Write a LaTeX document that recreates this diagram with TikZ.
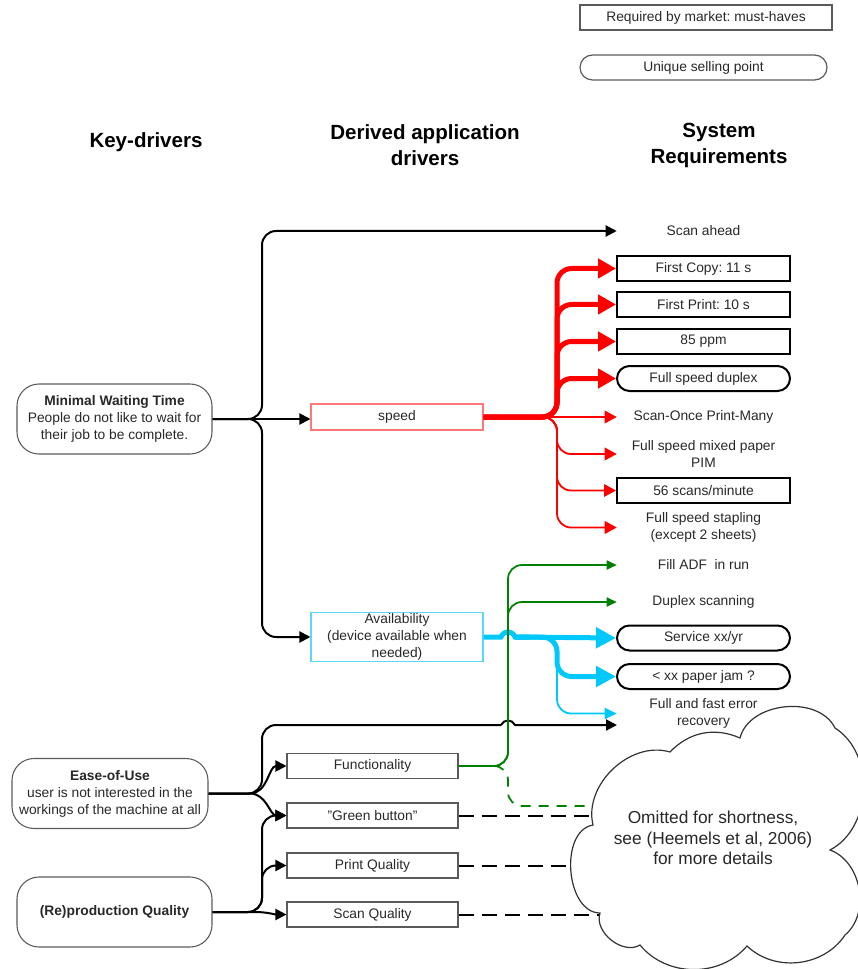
\documentclass[tikz,border=0pt]{standalone}
\usepackage{fontspec}
\setmainfont{Liberation Sans}
\usetikzlibrary{arrows.meta}
\pgfdeclarelayer{bg}
\pgfdeclarelayer{mid}
\pgfsetlayers{bg,mid,main}
\definecolor{cred}{RGB}{255,0,0}
\definecolor{lred}{RGB}{255,120,120}
\definecolor{ccyan}{RGB}{0,200,250}
\definecolor{lcyan}{RGB}{90,215,250}
\definecolor{cgreen}{RGB}{0,128,0}
\definecolor{tgray}{RGB}{40,40,40}
\definecolor{bgray}{RGB}{90,90,90}
\frenchspacing
\begin{document}
\begin{tikzpicture}[x=0.75pt,y=-0.75pt,
  txt/.style={font=\fontsize{10.35}{12.75}\selectfont, align=center, text=tgray, inner sep=0pt},
  hdr/.style={font=\fontsize{15.4}{19.5}\selectfont\bfseries, align=center, text=black},
  kbox/.style={txt, draw=bgray, line width=0.8pt, rounded corners=16.5pt, minimum width=146.25pt, minimum height=52.5pt},
  lbox/.style={txt, draw=bgray, line width=0.8pt, minimum width=128.25pt, minimum height=18.75pt},
  rbox/.style={txt, draw=black, line width=1.5pt, minimum width=129.75pt, minimum height=18.75pt},
  rrnd/.style={rbox, rounded corners=9.375pt},
  rtxt/.style={txt, minimum width=129.75pt, minimum height=18.75pt},
  blk/.style={line width=1.5pt, draw=black, -{Triangle[length=8.25pt,width=8.25pt]}},
  blkline/.style={line width=1.5pt, draw=black},
  rthick/.style={line width=3.75pt, draw=cred, rounded corners=11pt, -{Triangle[length=13.5pt,width=14.25pt]}},
  rthin/.style={line width=1.35pt, draw=cred, rounded corners=10.5pt, -{Triangle[length=9pt,width=9.4pt]}},
  cthick/.style={line width=3.75pt, draw=ccyan, rounded corners=11pt, -{Triangle[length=15pt,width=15pt]}},
  cthickline/.style={line width=3.75pt, draw=ccyan},
  cthin/.style={line width=1.35pt, draw=ccyan, rounded corners=10.5pt, -{Triangle[length=9pt,width=8.25pt]}},
  gline/.style={line width=1.3pt, draw=cgreen, rounded corners=10.5pt, -{Triangle[length=7.5pt,width=6.75pt]}},
  gdash/.style={line width=1.3pt, draw=cgreen, rounded corners=10.5pt, dash pattern=on 7.5pt off 6pt},
  bdash/.style={line width=1.5pt, draw=black, dash pattern=on 11.25pt off 6pt}
]
\useasboundingbox (0,0) rectangle (857,969);
\clip (0,0) rectangle (857,969);

% legend
\node[txt, draw=bgray, line width=0.9pt, minimum width=189pt, minimum height=18.75pt] (leg1) at (706,17.5) {Required by market: must-haves};
\node[txt, draw=bgray, line width=0.9pt, rounded corners=9.375pt, minimum width=185.25pt, minimum height=18.75pt] (leg2) at (703.5,67.5) {Unique selling point};

% headers
\node[hdr] (h1) at (146,142) {Key-drivers};
\node[hdr] (h2) at (425,145) {Derived application\\drivers};
\node[hdr] (h3) at (719,145) {System\\Requirements};

% key drivers
\node[kbox] (mwt) at (114.5,419) {\textbf{Minimal Waiting Time}\\People do not like to wait for\\their job to be complete.};
\node[kbox, minimum width=147pt] (eou) at (110,793.5) {\textbf{Ease-of-Use}\\user is not interested in the\\workings of the machine at all};
\node[kbox] (repq) at (114.5,912) {\textbf{(Re)production Quality}};

% derived
\node[lbox, draw=lred, minimum width=129pt, minimum height=19.5pt] (speed) at (397,417) {speed};
\node[lbox, draw=lcyan, minimum width=129pt, minimum height=36.75pt] (avail) at (397,637) {Availability\\(device available when\\needed)};
\node[lbox] (func) at (372.5,766) {Functionality};
\node[lbox] (green) at (372.5,815.5) {"Green button"};
\node[lbox] (printq) at (372.5,865.5) {Print Quality};
\node[lbox] (scanq) at (372.5,914.5) {Scan Quality};

% system requirements
\node[rtxt] (sa) at (703.5,231) {Scan ahead};
\node[rbox] (fc) at (703.5,268.5) {First Copy: 11 s};
\node[rbox] (fp) at (703.5,304.5) {First Print: 10 s};
\node[rbox] (ppm) at (703.5,341.5) {85 ppm};
\node[rrnd] (fsd) at (703.5,378.5) {Full speed duplex};
\node[rtxt] (sopm) at (703.5,417) {Scan-Once Print-Many};
\node[rtxt] (fsmp) at (703.5,454) {Full speed mixed paper\\PIM};
\node[rbox] (s56) at (703.5,490.5) {56 scans/minute};
\node[rtxt] (fss) at (703.5,527.5) {Full speed stapling\\(except 2 sheets)};
\node[rtxt] (fadf) at (703.5,565) {Fill ADF~ in run};
\node[rtxt] (dup) at (703.5,602) {Duplex scanning};
\node[rrnd] (svc) at (703.5,638) {Service xx/yr};
\node[rrnd] (jam) at (703.5,676.5) {< xx paper jam ?};
\node[rtxt] (ferr) at (703.5,713.5) {Full and fast error\\recovery};
\coordinate (fe2) at (617,725);
\coordinate (ej) at (501,725);
\coordinate (ej2) at (515,725);
\coordinate (aj) at (501,637);
\coordinate (aj2) at (515,637);

% cloud
\begin{pgfonlayer}{mid}
\draw[line width=0.9pt, draw=black!80, fill=white]
  (670,752) to[bend left=35] (740,738) to[bend left=70] (835,728)
  to[bend left=60] (830,850) to[bend left=60] (845,935)
  to[bend left=50] (747,946) to[bend left=50] (640,945)
  to[bend left=70] (600,913) to[bend left=85] (593,825)
  to[bend left=60] cycle;
\end{pgfonlayer}
\node[txt, font=\fontsize{13}{15.4}\selectfont] (cloudtxt) at (713,838) {Omitted for shortness,\\see (Heemels et al, 2006)\\for more details};

% minimal waiting time connectors
\draw[blk, rounded corners=10.5pt] (mwt.east) -- (262,419) -- (262,231) -- (sa.west);
\draw[blk] (mwt.east) -- (speed.west |- mwt.east);
\draw[blk, rounded corners=10.5pt] (mwt.east) -- (262,419) -- (262,637) -- (avail.west);

% speed connectors
\draw[rthick] (speed.east) -- (557,417) -- (557,268.5) -- (fc.west);
\draw[rthick] (speed.east) -- (557,417) -- (557,304.5) -- (fp.west);
\draw[rthick] (speed.east) -- (557,417) -- (557,341.5) -- (ppm.west);
\draw[rthick] (speed.east) -- (557,417) -- (557,378.5) -- (fsd.west);
\draw[rthin] (speed.east) -- (sopm.west);
\draw[rthin] (speed.east) -- (557,417) -- (557,454) -- (fsmp.west);
\draw[rthin] (speed.east) -- (557,417) -- (557,490.5) -- (s56.west);
\draw[rthin] (speed.east) -- (557,417) -- (557,527.5) -- (fss.west);

% availability connectors
\draw[cthickline] (avail.east) -- (aj) .. controls (504,630) and (512,630) .. (aj2) -- (530,637);
\draw[cthick] (aj2) -- (svc.west);
\draw[cthick] (aj2) -- (557,637) -- (557,676.5) -- (jam.west);
\draw[cthin] (aj2) -- (557,637) -- (557,713.5) -- (ferr.west);

% ease-of-use connectors
\draw[blkline, rounded corners=10.5pt] (eou.east) -- (262,793.5) -- (262,725) -- (ej);
\draw[blk] (ej) .. controls (504,719) and (512,719) .. (ej2) -- (fe2);
\draw[blk] (eou.east) -- (250,793.5) to[out=0,in=180] (func.west);
\draw[blk] (eou.east) -- (250,793.5) to[out=0,in=180] (green.west);

% reproduction quality connectors
\draw[blk] (repq.east) -- (255,912) to[out=0,in=180] (scanq.west);
\draw[blk, rounded corners=10.5pt] (repq.east) -- (262,912) -- (262,865.5) -- (printq.west);
\draw[blk, rounded corners=10.5pt] (repq.east) -- (262,912) -- (262,815.5) -- (green.west);

% functionality connectors (green)
\draw[gline] (func.east) -- (508,766) -- (508,565) -- (fadf.west);
\draw[gline] (func.east) -- (508,766) -- (508,602) -- (dup.west);

% dashed links into the cloud
\begin{pgfonlayer}{bg}
\coordinate (gd) at (620,806);
\draw[gdash] (func.east) -- (508,766) -- (508,806) -- (gd);
\coordinate (d1) at (640,815.5);
\coordinate (d2) at (640,865.5);
\coordinate (d3) at (640,914.5);
\draw[bdash] (green.east) -- (d1);
\draw[bdash] (printq.east) -- (d2);
\draw[bdash] (scanq.east) -- (d3);
\end{pgfonlayer}
\end{tikzpicture}
\end{document}
